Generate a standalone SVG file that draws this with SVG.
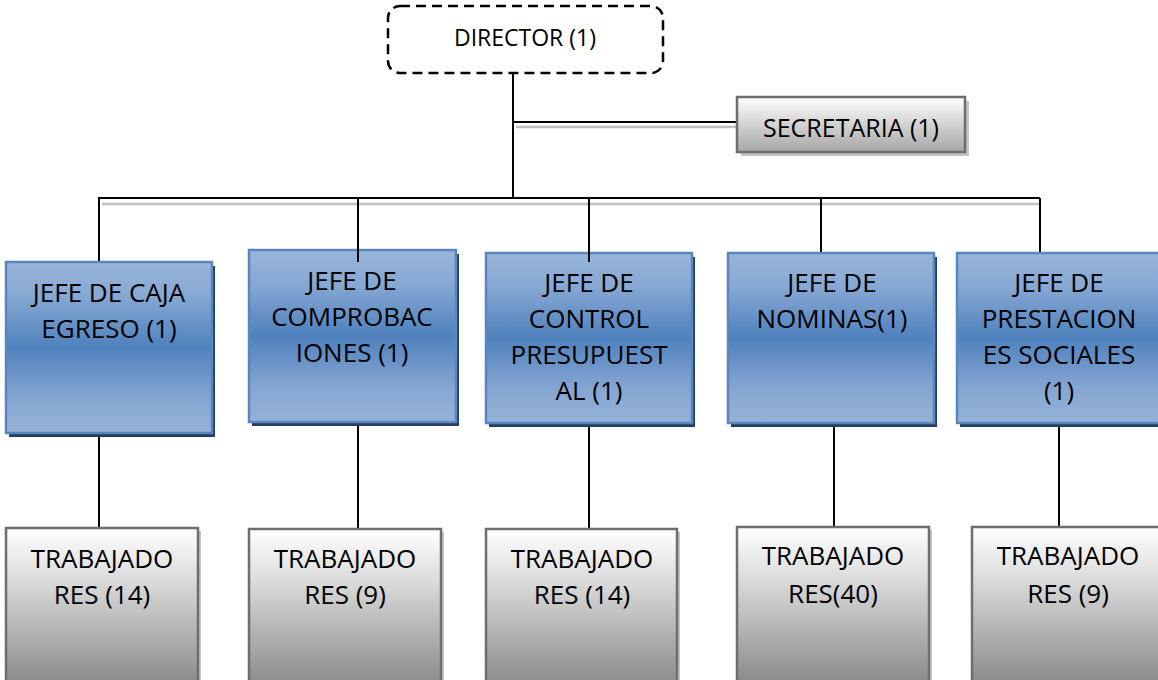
<svg xmlns="http://www.w3.org/2000/svg" width="1158" height="680" viewBox="0 0 1158 680">
  <style>
    text { font-family: "Open Sans", "Liberation Sans", sans-serif; fill: #000; text-anchor: middle; }
    .lbl { font-size: 26px; }
    .top { font-size: 23px; }
    .blue { fill: url(#gBlue); stroke: #5a86c0; stroke-width: 2.5; }
    .bshadow { fill: #263f61; }
    .gray { fill: url(#gGray); stroke: #6e6e6e; stroke-width: 2.5; }
    .gshadow { fill: #c4c4c4; }
    .ln { stroke: #000; stroke-width: 2; fill: none; }
    .ln2 { stroke: #c0c0c0; stroke-width: 2.5; fill: none; }
  </style>
  <defs>
    <linearGradient id="gBlue" x1="0" y1="0" x2="0" y2="1">
      <stop offset="0" stop-color="#99b6da"/>
      <stop offset="0.2" stop-color="#86a8d3"/>
      <stop offset="0.5" stop-color="#4f81bd"/>
      <stop offset="0.8" stop-color="#86a6d2"/>
      <stop offset="1" stop-color="#95b3d7"/>
    </linearGradient>
    <linearGradient id="gGray" x1="0" y1="0" x2="0" y2="1">
      <stop offset="0" stop-color="#ffffff"/>
      <stop offset="0.3" stop-color="#dedede"/>
      <stop offset="1" stop-color="#878787"/>
    </linearGradient>
    <linearGradient id="gSec" x1="0" y1="0" x2="0" y2="1">
      <stop offset="0" stop-color="#ffffff"/>
      <stop offset="1" stop-color="#a6a6a6"/>
    </linearGradient>
  </defs>

  <g id="connectors">
    <line class="ln2" x1="516" y1="127" x2="737" y2="127"/>
    <line class="ln" x1="513" y1="122" x2="737" y2="122"/>
    <line class="ln2" x1="102" y1="204" x2="1040" y2="204"/>
    <line class="ln" x1="98" y1="198" x2="1040" y2="198"/>
    <line class="ln" x1="513" y1="73" x2="513" y2="198"/>
    <line class="ln" x1="99" y1="198" x2="99" y2="262"/>
    <line class="ln" x1="821" y1="198" x2="821" y2="253"/>
    <line class="ln" x1="1040" y1="198" x2="1040" y2="253"/>
    <line class="ln" x1="99" y1="433" x2="99" y2="528"/>
    <line class="ln" x1="358" y1="422" x2="358" y2="529"/>
    <line class="ln" x1="589" y1="423" x2="589" y2="529"/>
    <line class="ln" x1="834" y1="423" x2="834" y2="527"/>
    <line class="ln" x1="1059" y1="423" x2="1059" y2="527"/>
  </g>

  <g id="director">
    <rect x="388" y="6" width="275" height="67" rx="12" fill="#fff" stroke="#000" stroke-width="2.5" stroke-dasharray="10 6"/>
    <text class="top" x="525" y="46">DIRECTOR (1)</text>
  </g>

  <g id="secretaria">
    <rect x="741" y="101" width="228" height="55" class="gshadow" fill="#b5b5b5"/>
    <rect x="737" y="97" width="228" height="55" fill="url(#gSec)" stroke="#6e6e6e" stroke-width="2.5"/>
    <text class="top" x="851" y="137" style="font-size:25px">SECRETARIA (1)</text>
  </g>

  <g id="jefe-caja">
    <rect class="bshadow" x="9" y="266" width="206" height="171"/>
    <rect class="blue" x="6" y="262" width="206" height="171"/>
    <text class="lbl" x="109" y="302">JEFE DE CAJA</text>
    <text class="lbl" x="109" y="338">EGRESO (1)</text>
  </g>

  <g id="jefe-comprobaciones">
    <rect class="bshadow" x="252" y="254" width="207" height="172"/>
    <rect class="blue" x="249" y="250" width="207" height="172"/>
    <text class="lbl" x="352" y="290">JEFE DE</text>
    <text class="lbl" x="352" y="326">COMPROBAC</text>
    <text class="lbl" x="352" y="362">IONES (1)</text>
  </g>
  <line class="ln" x1="358" y1="198" x2="358" y2="262"/>

  <g id="jefe-control">
    <rect class="bshadow" x="489" y="257" width="206" height="170"/>
    <rect class="blue" x="486" y="253" width="206" height="170"/>
    <text class="lbl" x="589" y="292">JEFE DE</text>
    <text class="lbl" x="589" y="328">CONTROL</text>
    <text class="lbl" x="589" y="364">PRESUPUEST</text>
    <text class="lbl" x="589" y="400">AL (1)</text>
  </g>
  <line class="ln" x1="589" y1="198" x2="589" y2="262"/>

  <g id="jefe-nominas">
    <rect class="bshadow" x="731" y="257" width="206" height="170"/>
    <rect class="blue" x="728" y="253" width="206" height="170"/>
    <text class="lbl" x="832" y="292">JEFE DE</text>
    <text class="lbl" x="832" y="328">NOMINAS(1)</text>
  </g>

  <g id="jefe-prestaciones">
    <rect class="bshadow" x="960" y="257" width="206" height="170"/>
    <rect class="blue" x="957" y="253" width="206" height="170"/>
    <text class="lbl" x="1059" y="292">JEFE DE</text>
    <text class="lbl" x="1059" y="328">PRESTACION</text>
    <text class="lbl" x="1059" y="364">ES SOCIALES</text>
    <text class="lbl" x="1059" y="400">(1)</text>
  </g>

  <g id="trab-1">
    <rect class="gshadow" x="9" y="531" width="192" height="160"/>
    <rect class="gray" x="6" y="528" width="192" height="160"/>
    <text class="lbl" x="102" y="568">TRABAJADO</text>
    <text class="lbl" x="102" y="604">RES (14)</text>
  </g>

  <g id="trab-2">
    <rect class="gshadow" x="252" y="532" width="192" height="160"/>
    <rect class="gray" x="249" y="529" width="192" height="160"/>
    <text class="lbl" x="345" y="568">TRABAJADO</text>
    <text class="lbl" x="345" y="604">RES (9)</text>
  </g>

  <g id="trab-3">
    <rect class="gshadow" x="489" y="532" width="191" height="160"/>
    <rect class="gray" x="486" y="529" width="191" height="160"/>
    <text class="lbl" x="582" y="568">TRABAJADO</text>
    <text class="lbl" x="582" y="604">RES (14)</text>
  </g>

  <g id="trab-4">
    <rect class="gshadow" x="740" y="530" width="192" height="160"/>
    <rect class="gray" x="737" y="527" width="192" height="160"/>
    <text class="lbl" x="833" y="565">TRABAJADO</text>
    <text class="lbl" x="833" y="603">RES(40)</text>
  </g>

  <g id="trab-5">
    <rect class="gshadow" x="975" y="530" width="192" height="160"/>
    <rect class="gray" x="972" y="527" width="192" height="160"/>
    <text class="lbl" x="1068" y="565">TRABAJADO</text>
    <text class="lbl" x="1068" y="603">RES (9)</text>
  </g>
</svg>
